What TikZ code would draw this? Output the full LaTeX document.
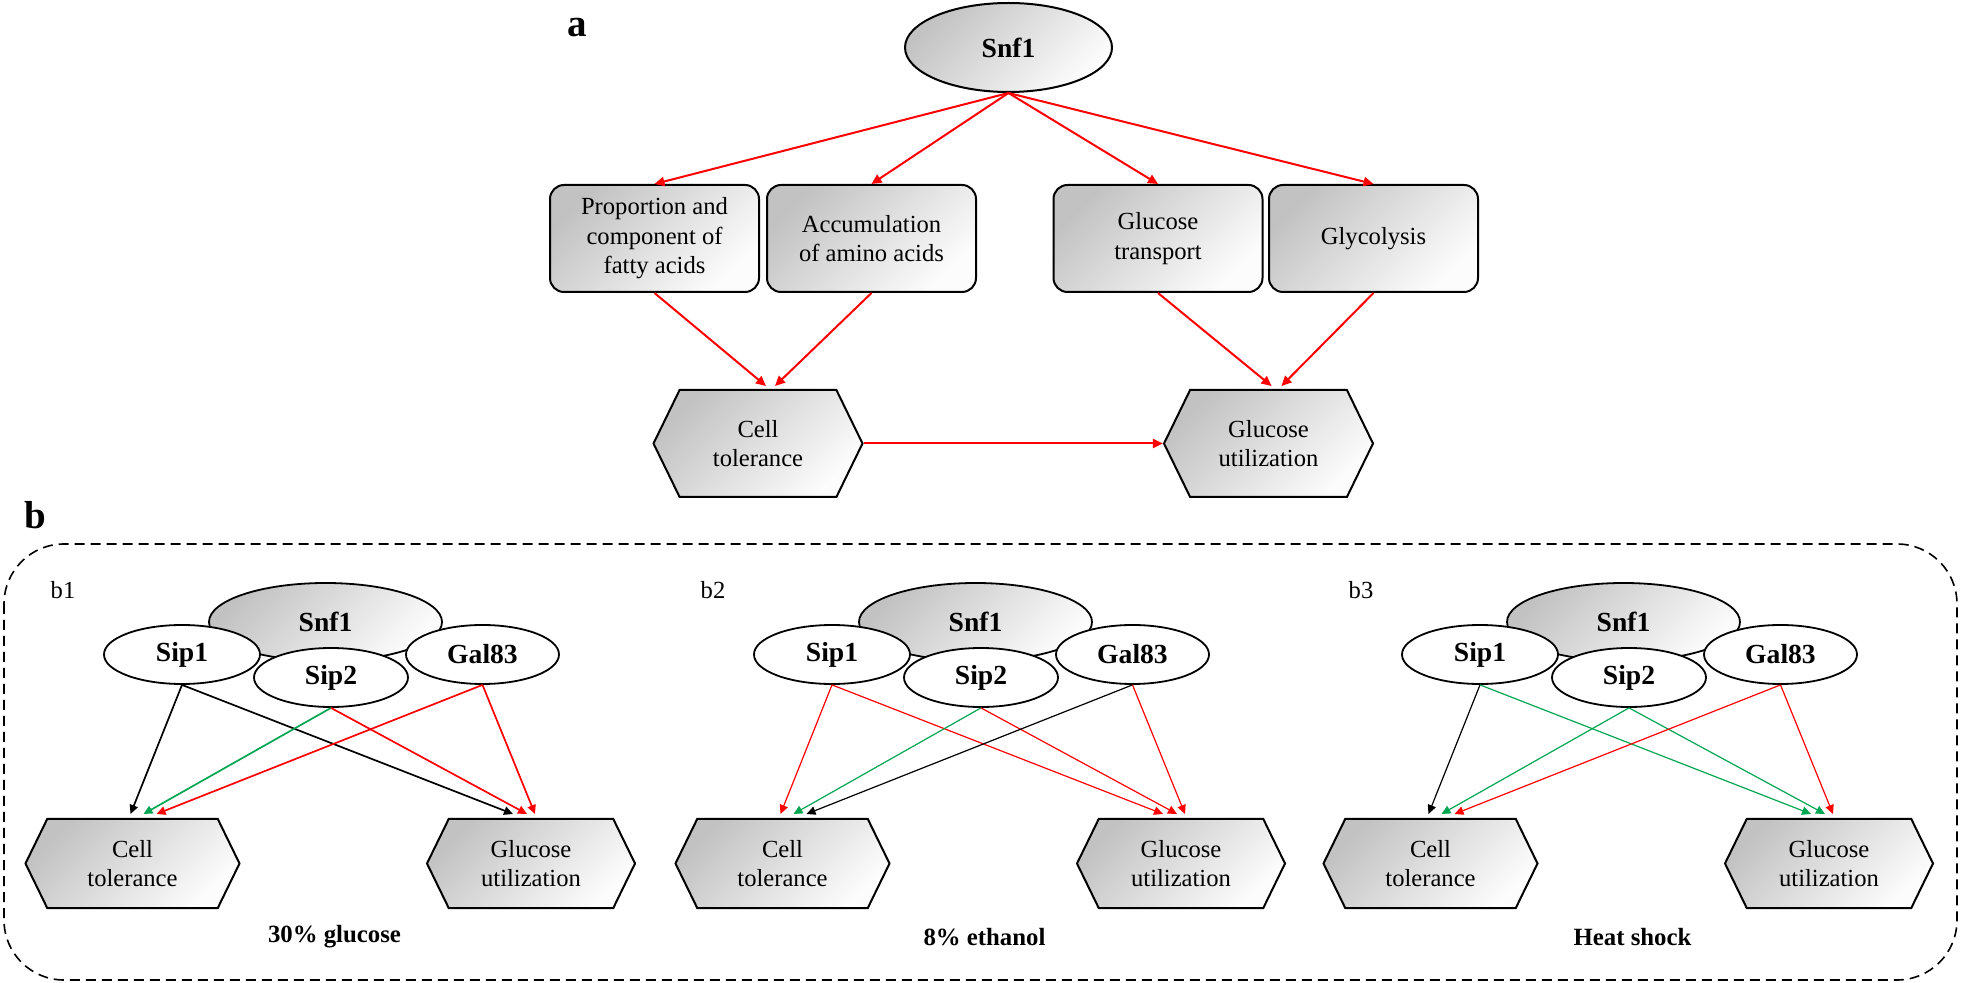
\documentclass[tikz,border=0pt]{standalone}
\usepackage{fontspec}
\setmainfont{Liberation Serif}
\usetikzlibrary{shapes.geometric,shapes.symbols,arrows.meta,calc}
\definecolor{upgreen}{RGB}{0,166,81}

\begin{document}
\begin{tikzpicture}[x=0.5pt,y=-0.5pt,
    txt/.style={font=\fontsize{12.3pt}{14.8pt}\selectfont, align=center},
    grey/.style={top color=black!24, bottom color=black!1, shading angle=45},
    box/.style={txt, grey, draw, line width=1pt, rounded corners=7pt,
      minimum width=104.5pt, minimum height=53.5pt, inner sep=0pt},
    hexa/.style={txt, grey, draw, line width=1pt, shape=signal,
      signal to=east and west, signal pointer angle=128, inner sep=0pt},
    oval/.style={draw, ellipse, line width=0.9pt, inner sep=0pt,
      font=\fontsize{13.8pt}{16pt}\selectfont\bfseries},
    link/.style={-{Triangle[length=5pt,width=4.6pt]}, red, line width=1pt},
    tag/.style={font=\fontsize{19.5pt}{22pt}\selectfont\bfseries}]
  \useasboundingbox (0,0) rectangle (1961,983);

  \node[tag] (a) at (577,28) {a};
  \node[oval, grey, line width=1pt, minimum width=103.5pt, minimum height=44.5pt] (snf) at (1008.5,47.5) {Snf1};
  \node[box] (fatty) at (654.5,238.5) {Proportion and\\component of\\fatty acids};
  \node[box] (amino) at (871.5,238.5) {Accumulation\\of amino acids};
  \node[box] (trans) at (1158,238.5) {Glucose\\transport};
  \node[box] (glyc) at (1373.5,238.5) {Glycolysis};
  \node[hexa, minimum width=104.5pt, minimum height=53.5pt] (tola) at (758,443.5) {Cell\\tolerance};
  \node[hexa, minimum width=104.5pt, minimum height=53.5pt] (usea) at (1268.5,443.5) {Glucose\\utilization};
  \foreach \n in {fatty,amino,trans,glyc}
    \draw[link] (snf.south) -- (\n.north);
  \draw[link] (fatty.south) -- ($(tola.north)+(8,-3)$);
  \draw[link] (amino.south) -- ($(tola.north)+(17,-3)$);
  \draw[link] (trans.south) -- ($(usea.north)+(3,-3)$);
  \draw[link] (glyc.south) -- ($(usea.north)+(13,-3)$);
  \draw[link] (tola.east) -- (usea.west);

  \node[tag] (b) at (35,515) {b};
  \draw[dash pattern=on 5pt off 3pt, line width=0.8pt, rounded corners=30pt] (4,544) rectangle (1957,980);
  \foreach \p/\dx/\lw/\cond/\ca/\cb/\cc/\cd/\ce/\cf in {
      1/0/0.85/30\% glucose/black/black/upgreen/red/red/red,
      2/650/0.6/8\% ethanol/red/red/upgreen/red/black/red,
      3/1298/0.6/Heat shock/black/upgreen/upgreen/upgreen/red/red}{
    \node[txt] (lab\p) at (\dx+63,590) {b\p};
    \node[oval, grey, minimum width=116.5pt, minimum height=39pt] (snf\p) at (\dx+325.5,622) {Snf1};
    \node[oval, fill=white, minimum width=78pt, minimum height=29.5pt] (sipa\p) at (\dx+182,654.5) {Sip1};
    \node[oval, fill=white, minimum width=76.5pt, minimum height=29.5pt] (gal\p) at (\dx+482.5,654.5) {Gal83};
    \node[oval, fill=white, minimum width=77pt, minimum height=29.5pt] (sipb\p) at (\dx+331,677.5) {Sip2};
    \node[hexa, minimum width=107pt, minimum height=44.5pt] (tol\p) at (\dx+132.5,863.5) {Cell\\tolerance};
    \node[hexa, minimum width=104pt, minimum height=44.5pt] (use\p) at (\dx+531,863.5) {Glucose\\utilization};
    \node[txt, font=\fontsize{12.4pt}{14.8pt}\selectfont\bfseries] (cond\p) at (\dx+334.5,937) {\cond};
    \begin{scope}[-{Triangle[length=4.5pt,width=4.2pt]}, line width=\lw pt]
      \draw[\ca] (sipa\p.south) -- ($(tol\p.north)+(-2,-4)$);
      \draw[\cb] (sipa\p.south) -- ($(use\p.north)+(-18,-4)$);
      \draw[\cc] (sipb\p.south) -- ($(tol\p.north)+(11,-4)$);
      \draw[\cd] (sipb\p.south) -- ($(use\p.north)+(-4,-4)$);
      \draw[\ce] (gal\p.south) -- ($(tol\p.north)+(24,-4)$);
      \draw[\cf] (gal\p.south) -- ($(use\p.north)+(4,-4)$);
    \end{scope}
  }
\end{tikzpicture}
\end{document}
